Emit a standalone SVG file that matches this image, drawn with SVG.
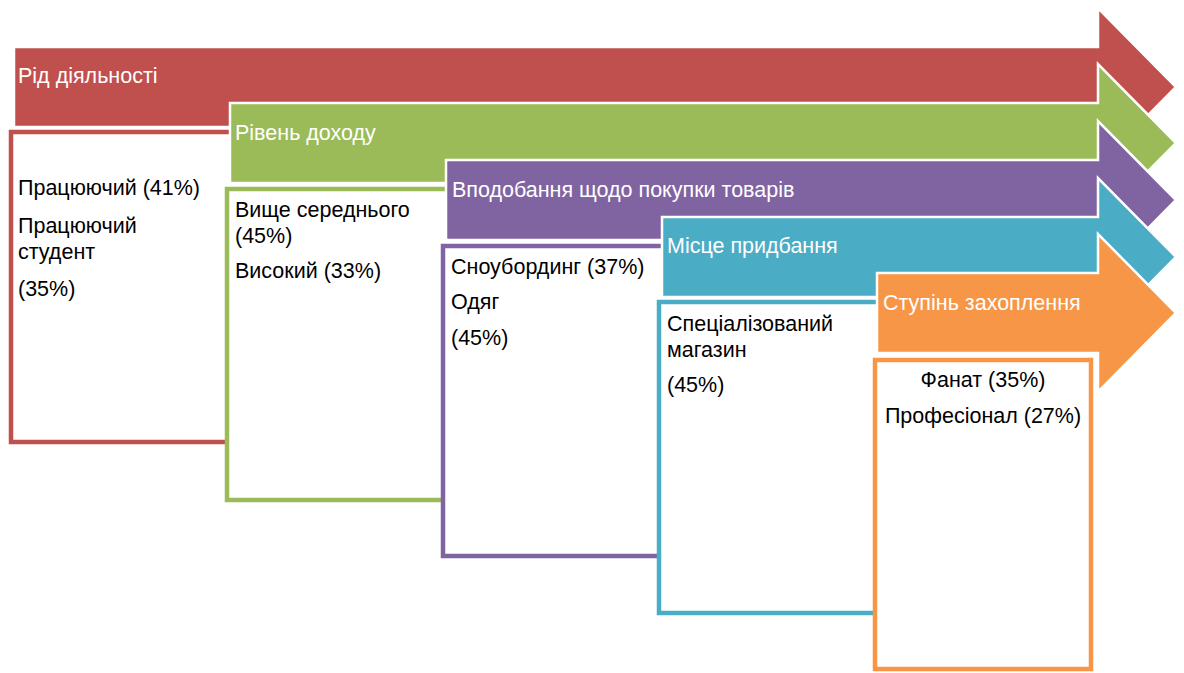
<svg xmlns="http://www.w3.org/2000/svg" width="1184" height="673" viewBox="0 0 1184 673">
<style>
.arrow{stroke:#fff;stroke-width:2.5;stroke-linejoin:miter}
.box{fill:#fff;stroke-width:4.5}
.h{font-family:"Liberation Sans","Noto Sans",sans-serif;font-size:21.5px;fill:#fff}
.t{font-family:"Liberation Sans","Noto Sans",sans-serif;font-size:21.5px;fill:#000}
</style>
<rect width="1184" height="673" fill="#fff"/>
<g id="stage1">
<polygon class="arrow" fill="#C0504D" points="14,47 1098,47 1098,8 1176,87 1098,166 1098,127 14,127"/>
<path class="box" stroke="#C0504D" d="M235,132 H11 V442 H235"/>
<text class="h" x="18" y="83">Рід діяльності</text>
<text class="t" x="18" y="195">Працюючий (41%)</text>
<text class="t" x="18" y="233">Працюючий</text>
<text class="t" x="18" y="259">студент</text>
<text class="t" x="18" y="296">(35%)</text>
</g>
<g id="stage2">
<polygon class="arrow" fill="#9BBB59" points="230,103 1098,103 1098,64 1176,143 1098,222 1098,183 230,183"/>
<path class="box" stroke="#9BBB59" d="M451,189 H227 V500 H451"/>
<text class="h" x="235" y="140">Рівень доходу</text>
<text class="t" x="235" y="217">Вище середнього</text>
<text class="t" x="235" y="243">(45%)</text>
<text class="t" x="235" y="278">Високий (33%)</text>
</g>
<g id="stage3">
<polygon class="arrow" fill="#8064A2" points="446,160 1098,160 1098,121 1176,200 1098,279 1098,240 446,240"/>
<path class="box" stroke="#8064A2" d="M667,246 H443 V556 H667"/>
<text class="h" x="452" y="197">Вподобання щодо покупки товарів</text>
<text class="t" x="451" y="274">Сноубординг (37%)</text>
<text class="t" x="451" y="309">Одяг</text>
<text class="t" x="451" y="345">(45%)</text>
</g>
<g id="stage4">
<polygon class="arrow" fill="#4BACC6" points="662,217 1098,217 1098,178 1176,257 1098,336 1098,297 662,297"/>
<path class="box" stroke="#4BACC6" d="M883,302 H659 V613 H883"/>
<text class="h" x="667" y="253">Місце придбання</text>
<text class="t" x="667" y="331">Спеціалізований</text>
<text class="t" x="667" y="357">магазин</text>
<text class="t" x="667" y="392">(45%)</text>
</g>
<g id="stage5">
<polygon class="arrow" fill="#F79646" points="877,273 1098,273 1098,234 1176,313 1098,392 1098,353 877,353"/>
<rect class="box" stroke="#F79646" x="875" y="360" width="216" height="309"/>
<text class="h" x="883" y="310">Ступінь захоплення</text>
<text class="t" x="983" y="387" text-anchor="middle">Фанат (35%)</text>
<text class="t" x="983" y="423" text-anchor="middle">Професіонал (27%)</text>
</g>
</svg>
